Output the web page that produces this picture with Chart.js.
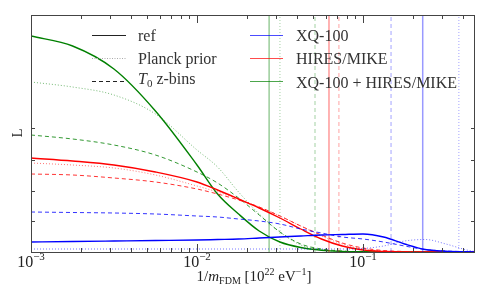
<!DOCTYPE html>
<html>
<head>
<meta charset="utf-8">
<script src="https://cdn.jsdelivr.net/npm/chart.js@4"></script>
<style>
  html, body { margin: 0; padding: 0; background: #fff; }
</style>
</head>
<body>
<canvas id="chart" width="491" height="303"></canvas>
<script>
// x grid: 1/m_FDM in 10^22 eV^-1
const xVals = [0.001, 0.00178, 0.00316, 0.00562, 0.01, 0.0133, 0.0178, 0.0237, 0.0316, 0.0422,
               0.0562, 0.075, 0.1, 0.133, 0.178, 0.237, 0.316, 0.422, 0.473];

// likelihood curves (arbitrary units)
const xqRef    = [10, 10.5, 11, 11.5, 12, 12.5, 13, 14, 15, 16, 17, 17.5, 18, 15, 8, 2.5, 0.8, 0.2, 0];
const xqPlanck = [3, 3, 3, 3, 3, 3, 3, 3, 3, 3, 3, 3, 3.5, 6, 11, 12.5, 8, 2, 0.5];
const xqT0     = [40, 39.5, 39, 38, 36, 35, 33, 31, 28, 23, 19, 15, 13, 10, 6, 2.5, 1, 0.3, 0];

const hrRef    = [94, 91, 87, 80, 70, 62, 53, 44, 34, 23, 13, 6, 2, 0.5, 0, 0, 0, 0, 0];
const hrPlanck = [89, 87, 84, 77, 66, 60, 53, 45, 36, 26, 16, 8, 3, 1, 0.3, 0, 0, 0, 0];
const hrT0     = [78, 77, 74, 70, 63, 58, 52, 45, 36, 26, 17, 9, 4, 1.5, 0.5, 0, 0, 0, 0];

const combRef    = [216, 206, 183, 141, 87, 58, 38, 21, 10, 4.5, 1.8, 0.6, 0.2, 0, 0, 0, 0, 0, 0];
const combPlanck = [170, 165, 157, 138, 102, 85, 60, 38, 20, 7, 2, 0.5, 0, 0, 0, 0, 0, 0, 0];
const combT0     = [117, 113, 107, 97, 80, 69, 54, 37, 20, 8, 3, 1, 0.3, 0, 0, 0, 0, 0, 0];

// vertical limit lines
const xqLimits   = [0.229, 0.378, 0.1476];   // ref, Planck prior, T0 z-bins
const hrLimits   = [0.0624, null, 0.0716];
const combLimits = [0.0272, 0.0316, 0.0514];

const yTicks = [31, 61, 92, 124];
const xMin = 0.001, xMax = 0.473, yMax = 237;

const colors = { xq: '#0000ff', hr: '#ff0000', comb: '#008000' };
const styles = [
  { dash: [], width: 1.4, alpha: 1 },
  { dash: [1, 2], width: 1, alpha: 0.55 },
  { dash: [4, 3], width: 1, alpha: 0.8 }
];

function rgba(hex, a) {
  const n = parseInt(hex.slice(1), 16);
  return `rgba(${n >> 16},${(n >> 8) & 255},${n & 255},${a})`;
}

const datasets = [];
[['xq', [xqRef, xqPlanck, xqT0], xqLimits],
 ['hr', [hrRef, hrPlanck, hrT0], hrLimits],
 ['comb', [combRef, combPlanck, combT0], combLimits]].forEach(([key, curves, limits]) => {
  curves.forEach((ys, i) => {
    const st = styles[i];
    datasets.push({
      data: xVals.map((x, j) => ({ x, y: ys[j] })),
      borderColor: rgba(colors[key], st.alpha),
      borderWidth: st.width,
      borderDash: st.dash,
      cubicInterpolationMode: 'monotone'
    });
  });
  limits.forEach((lx, i) => {
    if (lx === null) return;
    const st = styles[i];
    datasets.push({
      data: [{ x: lx, y: 0 }, { x: lx, y: yMax }],
      borderColor: rgba(colors[key], i === 0 ? 0.4 : 0.3),
      borderWidth: i === 0 ? 1.5 : 1.2,
      borderDash: i === 1 ? [1, 2] : st.dash
    });
  });
});

const SERIF = '"Liberation Serif", "DejaVu Serif", serif';

// draw a run of text pieces: {t, size, dy, it}
function drawRun(ctx, parts, x, y, align) {
  let w = 0;
  parts.forEach(p => {
    ctx.font = `${p.it ? 'italic ' : ''}${p.size}px ${SERIF}`;
    p.w = ctx.measureText(p.t).width;
    w += p.w;
  });
  let cx = align === 'center' ? x - w / 2 : x;
  parts.forEach(p => {
    ctx.font = `${p.it ? 'italic ' : ''}${p.size}px ${SERIF}`;
    ctx.fillText(p.t, cx, y + (p.dy || 0));
    cx += p.w;
  });
}

const decor = {
  id: 'decor',
  afterDraw(chart) {
    const ctx = chart.ctx;
    const a = chart.chartArea;
    const xs = chart.scales.x, ys = chart.scales.y;
    ctx.save();
    ctx.strokeStyle = '#444';
    ctx.lineWidth = 1;
    ctx.strokeRect(a.left + 0.5, a.top + 0.5, a.right - a.left - 1, a.bottom - a.top);

    // x ticks
    ctx.beginPath();
    for (let d = 0.001; d < 1; d *= 10) {
      for (let m = 1; m < 10; m++) {
        const v = d * m;
        if (v < xMin * 0.999 || v > xMax) continue;
        const px = Math.round(xs.getPixelForValue(v)) + 0.5;
        const len = m === 1 ? 8 : 4;
        ctx.moveTo(px, a.bottom); ctx.lineTo(px, a.bottom - len);
        ctx.moveTo(px, a.top); ctx.lineTo(px, a.top + len);
      }
    }
    yTicks.forEach(v => {
      const py = Math.round(ys.getPixelForValue(v)) + 0.5;
      ctx.moveTo(a.left, py); ctx.lineTo(a.left + 4, py);
      ctx.moveTo(a.right, py); ctx.lineTo(a.right - 4, py);
    });
    ctx.stroke();

    ctx.fillStyle = '#222';
    ctx.textBaseline = 'alphabetic';
    // x tick labels
    [[0.001, '\u22123'], [0.01, '\u22122'], [0.1, '\u22121']].forEach(([v, e]) => {
      const px = xs.getPixelForValue(v);
      drawRun(ctx, [{ t: '10', size: 16 }, { t: e, size: 11, dy: -7 }], px, 267, 'center');
    });
    // x axis title
    drawRun(ctx, [
      { t: '1/', size: 15 }, { t: 'm', size: 15, it: true }, { t: 'FDM', size: 10, dy: 3 },
      { t: ' [10', size: 15 }, { t: '22', size: 10, dy: -6 }, { t: ' eV', size: 15 },
      { t: '\u22121', size: 10, dy: -6 }, { t: ']', size: 15 }
    ], 254, 281, 'center');
    // y axis title
    ctx.save();
    ctx.translate(22, 133);
    ctx.rotate(-Math.PI / 2);
    drawRun(ctx, [{ t: 'L', size: 15 }], 0, 0, 'center');
    ctx.restore();

    // legend
    const rows = [35, 58, 81];
    const lineStyles = [
      { c: '#222', dash: [], w: 1 }, { c: '#aaa', dash: [1, 1.5], w: 1 }, { c: '#222', dash: [4, 3], w: 1 }
    ];
    lineStyles.forEach((s, i) => {
      ctx.strokeStyle = s.c; ctx.lineWidth = s.w; ctx.setLineDash(s.dash);
      ctx.beginPath(); ctx.moveTo(92, rows[i] + 0.5); ctx.lineTo(126, rows[i] + 0.5); ctx.stroke();
    });
    ctx.setLineDash([]);
    [colors.xq, colors.hr, colors.comb].forEach((c, i) => {
      ctx.strokeStyle = rgba(c, 0.7); ctx.lineWidth = 1.2;
      ctx.beginPath(); ctx.moveTo(250, rows[i] + 0.5); ctx.lineTo(283, rows[i] + 0.5); ctx.stroke();
    });
    ctx.fillStyle = '#333';
    drawRun(ctx, [{ t: 'ref', size: 16 }], 138, 41, 'left');
    drawRun(ctx, [{ t: 'Planck prior', size: 16 }], 138, 64, 'left');
    drawRun(ctx, [{ t: 'T', size: 16, it: true }, { t: '0', size: 11, dy: 3 }, { t: ' z-bins', size: 16 }], 138, 84, 'left');
    drawRun(ctx, [{ t: 'XQ-100', size: 16 }], 296, 41, 'left');
    drawRun(ctx, [{ t: 'HIRES/MIKE', size: 16 }], 296, 64, 'left');
    drawRun(ctx, [{ t: 'XQ-100 + HIRES/MIKE', size: 16 }], 296, 88, 'left');
    ctx.restore();
  }
};

new Chart(document.getElementById('chart'), {
  type: 'scatter',
  data: { datasets },
  options: {
    responsive: false,
    animation: false,
    showLine: true,
    layout: { padding: { left: 31, right: 16, top: 15, bottom: 51 } },
    elements: { point: { radius: 0 }, line: { fill: false } },
    plugins: { legend: { display: false }, tooltip: { enabled: false } },
    scales: {
      x: { type: 'logarithmic', min: xMin, max: xMax, display: false },
      y: { type: 'linear', min: 0, max: yMax, display: false }
    }
  },
  plugins: [decor]
});
</script>
</body>
</html>
